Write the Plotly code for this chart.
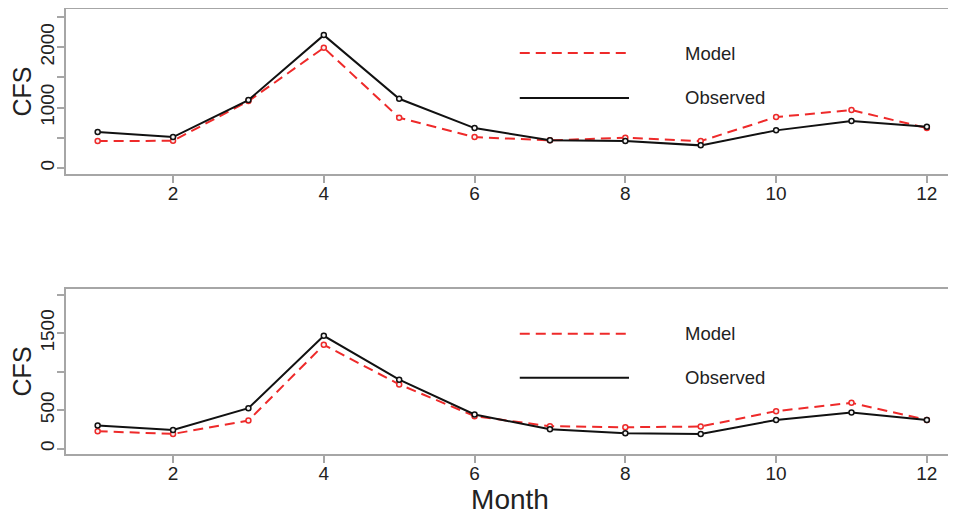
import plotly.graph_objects as go

months = list(range(1, 13))
top_observed = [595, 512, 1124, 2198, 1145, 661, 458, 446, 375, 623, 777, 683]
top_model = [446, 451, 1107, 1989, 831, 512, 458, 501, 446, 843, 959, 661]
bot_observed = [300, 243, 526, 1466, 896, 444, 252, 200, 191, 373, 470, 373]
bot_model = [226, 191, 365, 1349, 835, 422, 291, 278, 287, 487, 595, 373]

x_ticks = [2, 4, 6, 8, 10, 12]
top_yticks = [0, 500, 1000, 1500, 2000, 2500]
top_ylabels = ["0", "", "1000", "", "2000", ""]
bot_yticks = [0, 500, 1000, 1500, 2000]
bot_ylabels = ["0", "500", "", "1500", ""]

FONT = "Liberation Sans, Arial, sans-serif"
RED = "#ee2a2a"
BLACK = "#111111"
GREY = "#a6a6a6"

fig = go.Figure()

def add_pair(obs, mod, xa, ya):
    fig.add_trace(go.Scatter(x=months, y=mod, mode="lines+markers", xaxis=xa, yaxis=ya,
                             line=dict(color=RED, width=2, dash="10px,6px"),
                             marker=dict(symbol="circle", size=5, color="#f4f4f4",
                                         line=dict(color=RED, width=1.5)),
                             showlegend=False))
    fig.add_trace(go.Scatter(x=months, y=obs, mode="lines+markers", xaxis=xa, yaxis=ya,
                             line=dict(color=BLACK, width=2),
                             marker=dict(symbol="circle", size=5, color="#f4f4f4",
                                         line=dict(color=BLACK, width=1.5)),
                             showlegend=False))

add_pair(top_observed, top_model, "x", "y")
add_pair(bot_observed, bot_model, "x2", "y2")

xcommon = dict(range=[0.58, 12.36], tickvals=x_ticks, showline=True, mirror=True,
               linecolor=GREY, linewidth=2, ticks="outside", ticklen=7, tickwidth=1.5,
               tickcolor=GREY, showgrid=False, zeroline=False, automargin=False,
               ticklabelstandoff=-6,
               tickfont=dict(family=FONT, size=19, color="#222"))
ycommon = dict(showline=True, mirror=True, linecolor=GREY, linewidth=2, ticks="outside",
               ticklen=7, tickwidth=1.5, tickcolor=GREY, showgrid=False, zeroline=False,
               automargin=False, tickangle=-90, ticklabelstandoff=-5,
               tickfont=dict(family=FONT, size=19, color="#222"),
               title=dict(text="CFS", font=dict(family=FONT, size=25, color="#222"), standoff=10))

# the page body adds an 8px offset, so the figure is sized to fit the window
fig.update_layout(
    width=948, height=511,
    margin=dict(l=58, r=2, t=1, b=65),
    paper_bgcolor="white", plot_bgcolor="white",
    xaxis=dict(domain=[0, 1], anchor="y", **xcommon),
    yaxis=dict(domain=[0.629, 1.0], anchor="x", range=[-100, 2630],
               tickvals=top_yticks, ticktext=top_ylabels, **ycommon),
    xaxis2=dict(domain=[0, 1], anchor="y2",
                title=dict(text="Month", font=dict(family=FONT, size=28, color="#222"), standoff=6),
                **xcommon),
    yaxis2=dict(domain=[0.0, 0.371], anchor="x2", range=[-70, 2076],
                tickvals=bot_yticks, ticktext=bot_ylabels, **ycommon),
)

legend_rows = [("x domain", "y domain", 0.733, 0.461), ("x2 domain", "y2 domain", 0.729, 0.462)]
for xr, yr, ym, yo in legend_rows:
    fig.add_shape(type="line", xref=xr, yref=yr, x0=0.511, x1=0.634, y0=ym, y1=ym,
                  line=dict(color=RED, width=2, dash="10px,6px"))
    fig.add_shape(type="line", xref=xr, yref=yr, x0=0.511, x1=0.634, y0=yo, y1=yo,
                  line=dict(color=BLACK, width=2))
    fig.add_annotation(xref=xr, yref=yr, x=0.695, y=ym, text="Model", showarrow=False,
                       xanchor="left", yanchor="middle",
                       font=dict(family=FONT, size=18.5, color="#222"))
    fig.add_annotation(xref=xr, yref=yr, x=0.695, y=yo, text="Observed", showarrow=False,
                       xanchor="left", yanchor="middle",
                       font=dict(family=FONT, size=18.5, color="#222"))

fig.write_html("out.html")
